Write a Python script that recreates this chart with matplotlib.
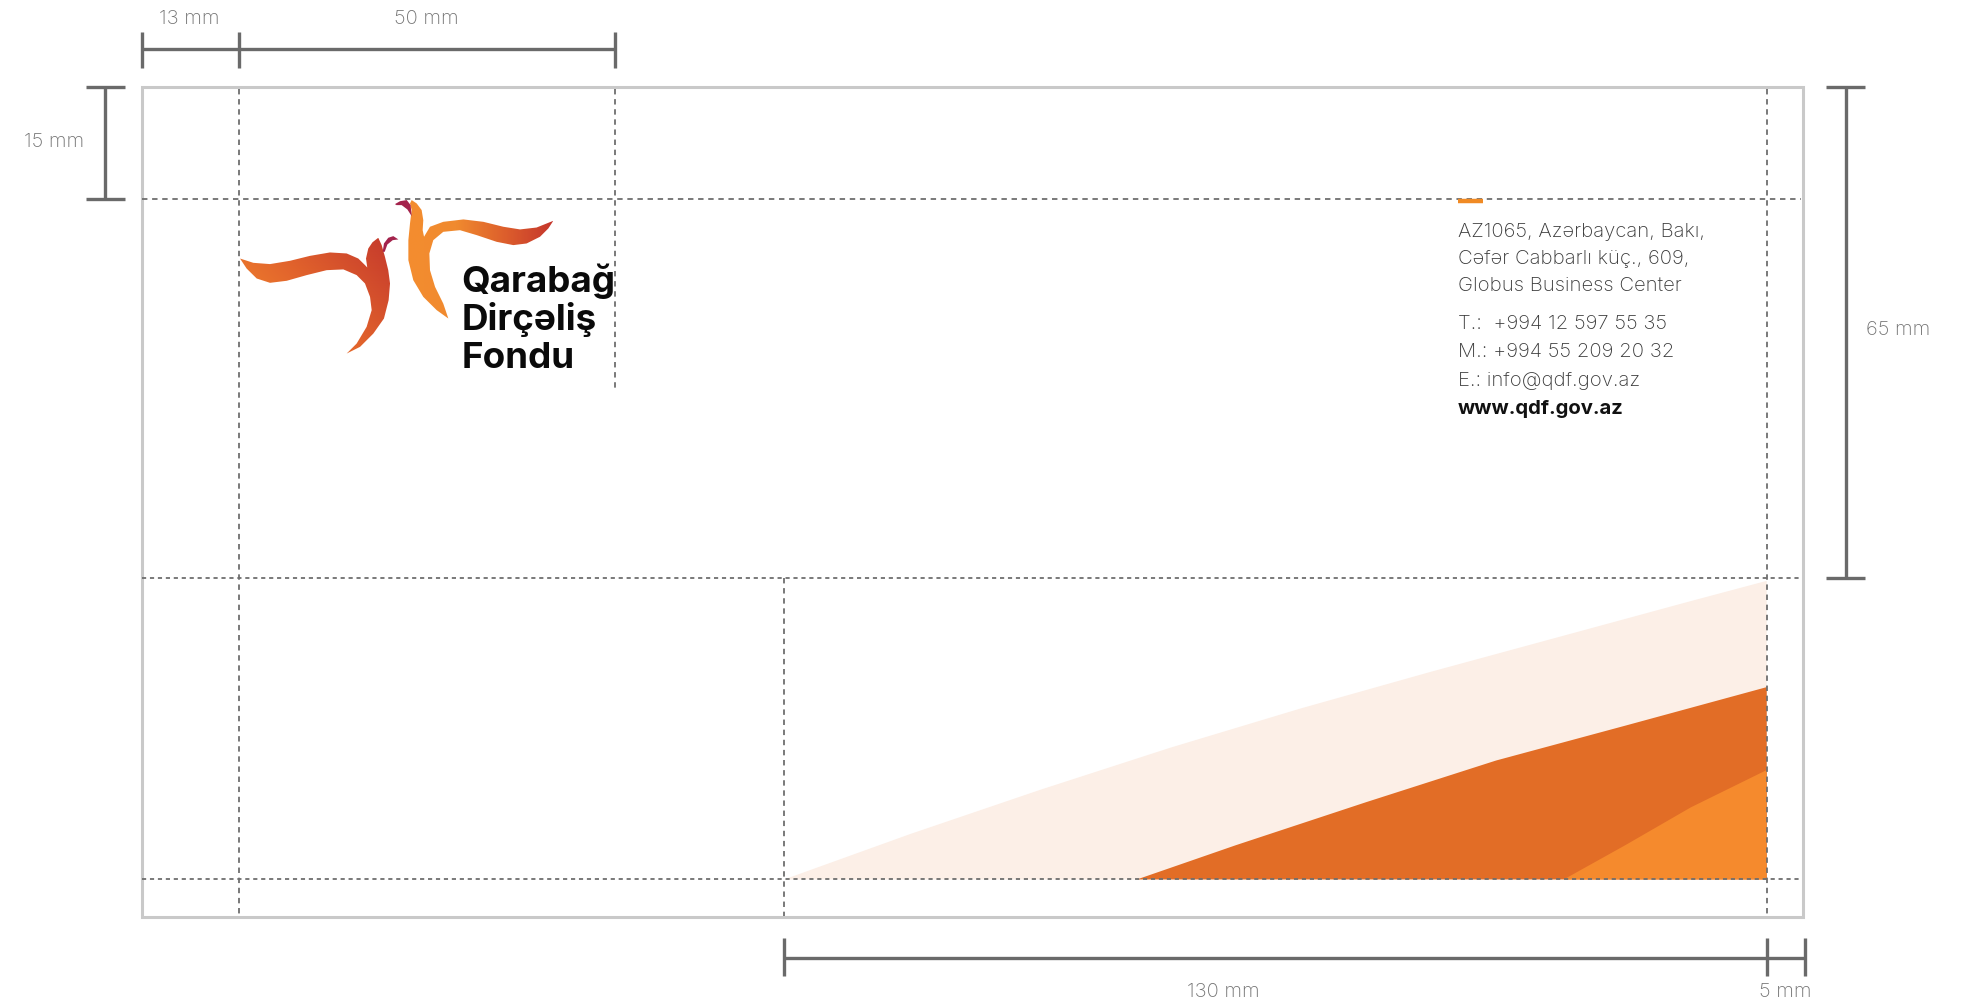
import numpy as np
import matplotlib
matplotlib.use("Agg")
import matplotlib.pyplot as plt
from matplotlib.patches import Polygon, Rectangle
from matplotlib.colors import LinearSegmentedColormap

# ---------------- data (layout units: 1568 x 795 canvas) ----------------
dim_labels_top = ["13 mm", "50 mm"]
dim_label_left = "15 mm"
dim_label_right = "65 mm"
dim_labels_bottom = ["130 mm", "5 mm"]

logo_lines = ["Qarabağ", "Dirçəliş", "Fondu"]
address_lines = ["AZ1065, Azərbaycan, Bakı,", "Cəfər Cabbarlı küç., 609,", "Globus Business Center"]
contact_lines = ["T.:  +994 12 597 55 35", "M.: +994 55 209 20 32", "E.: info@qdf.gov.az"]
web_line = "www.qdf.gov.az"

# decorative curves (x, y) in canvas units
light_curve_x = [620, 720, 823, 925, 1028, 1131, 1234, 1337, 1397]
light_curve_y = [695, 659, 624, 591, 560, 531, 503, 475, 459]
dark_curve_x = [899, 977, 1080, 1183, 1285, 1397]
dark_curve_y = [695, 668, 634, 601, 573.5, 543]
bright_curve_x = [1236.5, 1285, 1337, 1397]
bright_curve_y = [695, 668, 638, 608.5]

left_bird = [(189.8, 204.3), (200.3, 207.7), (213.5, 208.7), (229.3, 206.1), (245.1, 202.2),
             (260.9, 199.5), (274.1, 200.3), (283.3, 204.3), (288.6, 209.5), (290.4, 211.4),
             (289.4, 204.3), (291.2, 196.4), (294.5, 191.5), (299.1, 187.9), (301.8, 193.7),
             (304.4, 203.0), (307.0, 213.5), (308.4, 224.0), (307.3, 237.2), (303.6, 251.7),
             (295.2, 263.6), (284.7, 274.1), (274.1, 279.4), (282.0, 271.5), (289.9, 258.3),
             (293.9, 245.1), (292.6, 234.6), (288.6, 224.0), (282.0, 217.4), (271.5, 212.9),
             (258.3, 213.5), (242.5, 217.4), (226.7, 221.9), (213.5, 223.5), (203.0, 220.1),
             (195.0, 212.2)]
left_beak = [(302.6, 199.0), (303.6, 192.4), (307.0, 187.9), (311.0, 186.6), (315.0, 189.2),
             (310.5, 189.8), (306.3, 193.2), (304.2, 199.0)]
right_bird = [(325.5, 158.1), (329.5, 160.8), (333.4, 166.0), (334.7, 174.0), (334.2, 181.9),
              (335.3, 187.1), (340.0, 179.2), (350.5, 175.3), (366.4, 173.4), (382.2, 175.3),
              (398.0, 179.2), (411.2, 181.3), (424.3, 179.8), (437.5, 174.5), (433.6, 180.5),
              (427.0, 187.1), (416.4, 192.4), (405.9, 193.7), (392.7, 191.1), (376.9, 185.8),
              (363.7, 181.9), (350.5, 183.2), (342.6, 189.8), (339.5, 200.3), (340.0, 213.5),
              (344.0, 226.7), (350.5, 239.9), (354.5, 251.7), (345.3, 245.1), (334.7, 234.6),
              (326.8, 221.4), (322.9, 205.6), (322.9, 189.8), (324.2, 176.6), (325.5, 166.0),
              (324.2, 160.8)]
right_beak = [(312.3, 161.3), (316.3, 159.0), (321.6, 158.1), (324.7, 162.1), (325.5, 170.8),
              (322.1, 165.5), (317.6, 162.1), (313.6, 162.1)]

W, H = 1568, 795
fig = plt.figure(figsize=(19.83, 10.06), dpi=100)
ax = fig.add_axes([0, 0, 1, 1])
ax.set_axis_off()

DIM = "#6a6a6a"
DASH = "#6e6e6e"
TXT = "#747474"
FONT = ["Inter", "DejaVu Sans"]

# paper outline
ax.add_patch(Rectangle((112, 69), 1426 - 112, 725 - 69, fill=False, edgecolor="#c9c9c9", lw=2.2, zorder=1))

# decorative shapes
def region(cx, cy, color, z):
    xs = list(cx) + [1397, cx[0]]
    ys = list(cy) + [695, 695]
    ax.fill(xs, ys, color=color, lw=0, zorder=z)

region(light_curve_x, light_curve_y, "#fcefe7", 2)
region(dark_curve_x, dark_curve_y, "#e26d26", 3)
region(bright_curve_x, bright_curve_y, "#f58a2d", 4)

# dashed guides
dkw = dict(color=DASH, lw=1.3, dashes=(3, 2.6), zorder=6)
fkw = dict(color=DASH, lw=1.3, dashes=(2.3, 2.1), zorder=6)
ax.plot([112, 1424], [157, 157], **dkw)
for y in [457, 695]:
    ax.plot([112, 1424], [y, y], **fkw)
ax.plot([189, 189], [70, 724], **dkw)
ax.plot([1397, 1397], [70, 724], **dkw)
ax.plot([486, 486], [70, 308], **dkw)
ax.plot([620, 620], [457, 724], **dkw)

# dimension brackets
bkw = dict(color=DIM, lw=2.4, solid_capstyle="butt", zorder=7)
ax.plot([112, 486], [39, 39], **bkw)
for x in [112, 189, 486]:
    ax.plot([x, x], [25, 54], **bkw)
ax.plot([83, 83], [69, 157], **bkw)
for y in [69, 157]:
    ax.plot([68, 99], [y, y], **bkw)
ax.plot([1460, 1460], [69, 457], **bkw)
for y in [69, 457]:
    ax.plot([1444, 1475], [y, y], **bkw)
ax.plot([620, 1427], [757, 757], **bkw)
for x in [620, 1397, 1427]:
    ax.plot([x, x], [741, 771], **bkw)

tkw = dict(color=TXT, fontsize=14.5, family=FONT, ha="center", va="center", fontweight="light")
ax.text(150, 15, dim_labels_top[0], **tkw)
ax.text(337, 15, dim_labels_top[1], **tkw)
ax.text(43, 112, dim_label_left, **tkw)
ax.text(1501, 261, dim_label_right, **tkw)
ax.text(967, 784, dim_labels_bottom[0], **tkw)
ax.text(1412, 784, dim_labels_bottom[1], **tkw)

# logo with gradients
def grad_poly(pts, colors, d, z):
    pts = np.array(pts, dtype=float)
    poly = Polygon(pts, closed=True, facecolor="none", edgecolor="none", zorder=z)
    ax.add_patch(poly)
    x0, y0 = pts.min(axis=0)
    x1, y1 = pts.max(axis=0)
    gx, gy = np.meshgrid(np.linspace(x0, x1, 300), np.linspace(y0, y1, 300))
    v = gx * d[0] + gy * d[1]
    v = (v - v.min()) / (v.max() - v.min())
    cmap = LinearSegmentedColormap.from_list("g", colors)
    im = ax.imshow(v, extent=[x0, x1, y0, y1], origin="lower", cmap=cmap,
                   aspect="auto", zorder=z, interpolation="bilinear")
    im.set_clip_path(poly)

grad_poly(left_bird, ["#f68f2e", "#e2642c", "#c5392c"], (1.0, -0.9), 8)
grad_poly(right_bird, ["#f48d2f", "#f08a2f", "#dd5f2c", "#c5362c"], (1.0, 0.0), 8)
ax.fill(*zip(*left_beak), color="#a3234c", lw=0, zorder=9)
ax.fill(*zip(*right_beak), color="#a3234c", lw=0, zorder=9)

for i, line in enumerate(logo_lines):
    ax.text(365, 231 + 30 * i, line, fontsize=26.5, fontweight="bold", family=FONT,
            color="#0a0a0a", ha="left", va="baseline", zorder=9)

# small orange accent
ax.plot([1153, 1173], [158.5, 158.5], color="#f08a24", lw=3.2, solid_capstyle="butt", zorder=8)

akw = dict(fontsize=14.6, family=FONT, color="#3a3a3a", ha="left", va="center", fontweight="light")
for i, line in enumerate(address_lines):
    ax.text(1153, 183 + 21.5 * i, line, **akw)
for i, line in enumerate(contact_lines):
    ax.text(1153, [256, 278, 301][i], line, **akw)
ax.text(1153, 323, web_line, fontsize=14.6, family=FONT, color="#111111", ha="left", va="center",
        fontweight="bold")

ax.set_xlim(0, W)
ax.set_ylim(H, 0)
fig.savefig("out.png", dpi=100)
